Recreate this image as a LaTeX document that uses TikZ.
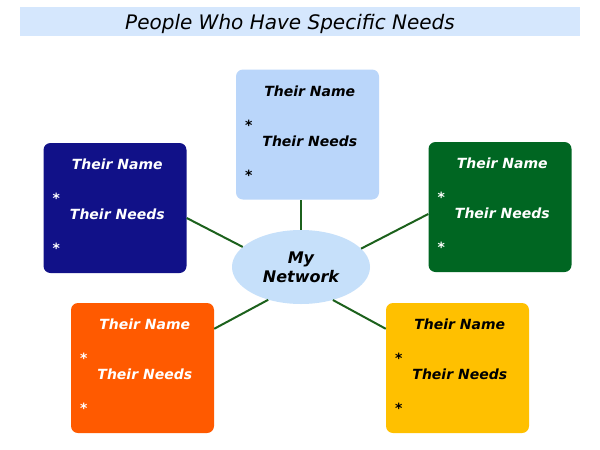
\documentclass[tikz,border=0pt]{standalone}
\usepackage{fontspec}
\setmainfont{DejaVu Sans}
\usetikzlibrary{calc,shapes.geometric}
\definecolor{titlebg}{HTML}{D5E7FD}
\definecolor{boxlb}{HTML}{BAD6FA}
\definecolor{ellbg}{HTML}{C6E0FA}
\definecolor{navy}{HTML}{111188}
\definecolor{dgreen}{HTML}{006622}
\definecolor{orng}{HTML}{FF5A00}
\definecolor{yllw}{HTML}{FFC000}
\definecolor{linec}{HTML}{1C611C}
\tikzset{
  personbox/.style={draw=none, rounded corners=7pt, minimum width=143pt, minimum height=130pt, inner sep=0pt},
  boxtext/.style={anchor=base, inner sep=0pt, font=\fontsize{14}{16}\selectfont\bfseries\itshape},
  conn/.style={draw=linec, line width=2pt}
}
\newcommand\mkperson[4]{%
  \node[personbox, fill=#3] (#1) at (#2) {};
  \node[boxtext, text=#4] (#1name) at ($(#1.north west)+(74,27)$) {Their Name};
  \node[boxtext, text=#4] (#1s1) at ($(#1.north west)+(13,61)$) {*};
  \node[boxtext, text=#4] (#1needs) at ($(#1.north west)+(74,77)$) {Their Needs};
  \node[boxtext, text=#4] (#1s2) at ($(#1.north west)+(13,111)$) {*};
}
\begin{document}
\begin{tikzpicture}[x=1pt,y=-1pt]
\useasboundingbox (0,0) rectangle (600,450);
\fill[white] (0,0) rectangle (600,450);
% title
\node[fill=titlebg, minimum width=560pt, minimum height=29pt, inner sep=0pt, anchor=north west] (titlebar) at (20,7) {};
\node[anchor=base, inner sep=0pt, font=\fontsize{20}{23}\selectfont\itshape] (title) at (290,29) {People Who Have Specific Needs};
% boxes
\mkperson{top}{307.5,134.5}{boxlb}{black}
\mkperson{navyb}{115,208}{navy}{white}
\mkperson{greenb}{500,207}{dgreen}{white}
\mkperson{orangeb}{142.5,368}{orng}{white}
\mkperson{yellowb}{457.5,368}{yllw}{black}
% center
\node[ellipse, fill=ellbg, minimum width=138pt, minimum height=74pt, inner sep=0pt, align=center,
      font=\fontsize{16}{19}\selectfont\bfseries\itshape] (net) at (301,267) {My\\Network};
% connector ends
\coordinate (navyc) at ($(navyb.east)+(0,10)$);
\coordinate (greenc) at ($(greenb.west)+(0,7)$);
\coordinate (orangec) at ($(orangeb.north east)+(0,26)$);
\coordinate (yellowc) at ($(yellowb.north west)+(0,26)$);
\draw[conn] (net.90) -- (net.90 |- top.south);
\draw[conn] (navyc) -- (net.161);
\draw[conn] (greenc) -- (net.17);
\draw[conn] (orangec) -- (net.225);
\draw[conn] (yellowc) -- (net.314);
\end{tikzpicture}
\end{document}
